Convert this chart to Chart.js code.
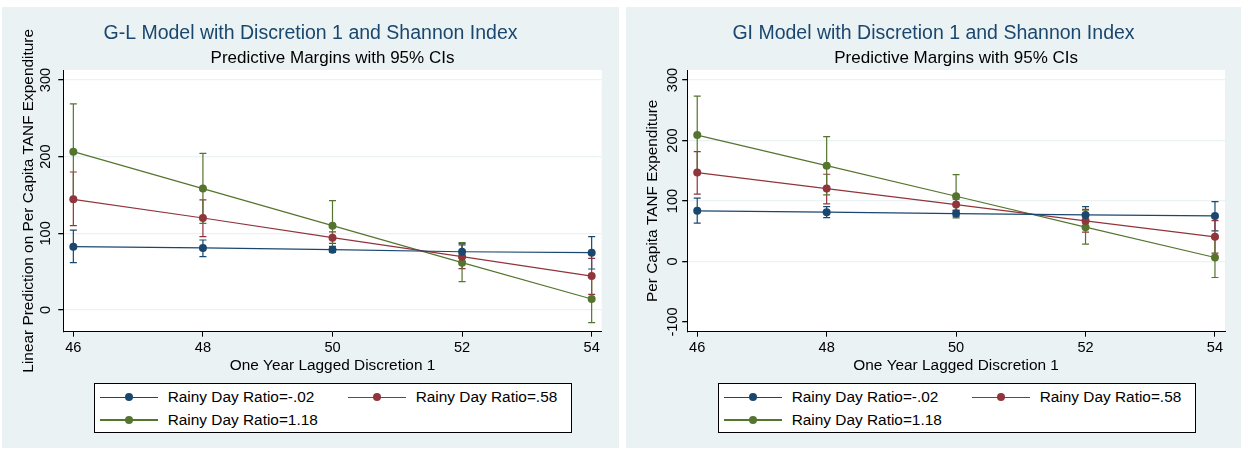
<!DOCTYPE html>
<html>
<head>
<meta charset="utf-8">
<script src="https://cdn.jsdelivr.net/npm/chart.js@4.4.1/dist/chart.umd.min.js"></script>
<style>
  html, body { margin: 0; padding: 0; background: #fff; overflow: hidden; }
  body { width: 1241px; height: 450px; position: relative; font-family: "Liberation Sans", Arial, sans-serif; }
  .panel { position: absolute; top: 7px; height: 441px; background: #eaf2f3; }
  .panel .wrap { position: absolute; left: 0; top: 0; width: 100%; height: 100%; }
  .legend { position: absolute; left: 91.7px; top: 376px; width: 478px; height: 50px; box-sizing: border-box; border: 1px solid #000; background: #fff; }
  .legend .item { position: absolute; height: 20px; line-height: 20px; font-size: 15.4px; color: #000; white-space: nowrap; }
  .legend .sym { position: absolute; left: 0; top: 0; width: 58px; height: 20px; }
  .legend .sym .ln { position: absolute; left: 0; top: 9.4px; width: 58px; height: 1.2px; }
  .legend .sym .dot { position: absolute; left: 25px; top: 6px; width: 8px; height: 8px; border-radius: 50%; }
  .legend .txt { position: absolute; left: 68px; top: 0; }
</style>
</head>
<body>
<div class="panel" style="left:2px;width:617px">
  <div class="wrap"><canvas id="glChart"></canvas></div>
  <div class="legend" id="glLegend"></div>
</div>
<div class="panel" style="left:626px;width:615px">
  <div class="wrap"><canvas id="giChart"></canvas></div>
  <div class="legend" id="giLegend"></div>
</div>
<script>
// x positions shared by both panels
const xValues = [46, 48, 50, 52, 54]
const xTicks = [46, 48, 50, 52, 54]
const seriesLabels = ['Rainy Day Ratio=-.02', 'Rainy Day Ratio=.58', 'Rainy Day Ratio=1.18']
const seriesColors = ['#1a476f', '#90353b', '#55752f']

// G-L model (left)
const glYTicks = [0, 100, 200, 300]
const glLow = [82.6, 80.9, 78.7, 76, 74.8]
const glLowCiLo = [61.7, 69.6, 75, 68, 53.5]
const glLowCiHi = [104.3, 91.3, 83, 85, 95.7]
const glMid = [144.3, 120, 94.3, 69.6, 44.3]
const glMidCiLo = [110, 95.7, 87, 53.9, 20.4]
const glMidCiHi = [180, 143.5, 102, 87, 67.4]
const glHigh = [206.5, 158.3, 110, 61.7, 14.3]
const glHighCiLo = [144, 113, 77, 37, -16.5]
const glHighCiHi = [268.7, 204.3, 142.6, 87.8, 45]

// GI model (right)
const giYTicks = [-100, 0, 100, 200, 300]
const giLow = [83.7, 81.5, 79.2, 77, 75.4]
const giLowCiLo = [63.4, 72.6, 74, 64, 50.7]
const giLowCiHi = [104.6, 90.8, 84, 90.8, 99]
const giMid = [146.9, 120.5, 94.1, 67.2, 40.8]
const giMidCiLo = [111.2, 95.2, 85, 48.5, 13.8]
const giMidCiHi = [181.5, 144.2, 103, 86, 67.7]
const giHigh = [209, 158.4, 107.9, 56.8, 6.6]
const giHighCiLo = [145, 110, 72, 28.7, -26.4]
const giHighCiHi = [273.4, 206.3, 143.6, 85, 39.6]

const FONT = '"Liberation Sans", Arial, sans-serif'
Chart.defaults.font.family = FONT
Chart.defaults.color = '#000'

// white plot region like Stata
const plotBg = {
  id: 'plotBg',
  beforeDraw (chart) {
    const { ctx, chartArea: a } = chart
    ctx.save()
    ctx.fillStyle = '#fff'
    ctx.fillRect(a.left, a.top, a.right - a.left, a.bottom - a.top)
    ctx.restore()
  }
}

// confidence interval caps (rcap)
const ciCaps = {
  id: 'ciCaps',
  beforeDatasetsDraw (chart) {
    const { ctx, scales: { x, y } } = chart
    chart.data.datasets.forEach(ds => {
      ctx.save()
      ctx.strokeStyle = ds.borderColor
      ctx.lineWidth = 1.2
      ds.ciLow.forEach((lo, i) => {
        const px = x.getPixelForValue(xValues[i])
        const top = y.getPixelForValue(ds.ciHigh[i])
        const bot = y.getPixelForValue(lo)
        ctx.beginPath()
        ctx.moveTo(px, top); ctx.lineTo(px, bot)
        ctx.moveTo(px - 3.5, top); ctx.lineTo(px + 3.5, top)
        ctx.moveTo(px - 3.5, bot); ctx.lineTo(px + 3.5, bot)
        ctx.stroke()
      })
      ctx.restore()
    })
  }
}

function buildLegend (id) {
  const box = document.getElementById(id)
  seriesLabels.forEach((label, i) => {
    const item = document.createElement('div')
    item.className = 'item'
    item.style.left = (5 + (i % 2) * 248) + 'px'
    item.style.top = (Math.floor(i / 2) === 0 ? 3.3 : 26) + 'px'
    item.innerHTML = `<span class="sym"><span class="ln" style="background:${seriesColors[i]}"></span>` +
      `<span class="dot" style="background:${seriesColors[i]}"></span></span><span class="txt">${label}</span>`
    box.appendChild(item)
  })
}

function renderPanel (canvasId, opts) {
  const datasets = opts.series.map((s, i) => ({
    label: seriesLabels[i],
    data: xValues.map((x, j) => ({ x, y: s.values[j] })),
    ciLow: s.lo,
    ciHigh: s.hi,
    borderColor: seriesColors[i],
    backgroundColor: seriesColors[i],
    borderWidth: 1.2,
    pointRadius: 4,
    pointBorderWidth: 0,
    pointBackgroundColor: seriesColors[i],
    tension: 0
  }))

  return new Chart(document.getElementById(canvasId), {
    type: 'line',
    data: { datasets },
    plugins: [plotBg, ciCaps],
    options: {
      responsive: true,
      maintainAspectRatio: false,
      animation: false,
      // equal side padding keeps the main title centred on the panel
      layout: { padding: { left: opts.side, top: 0, right: opts.side, bottom: 66.3 } },
      plugins: {
        legend: { display: false },
        tooltip: { enabled: false },
        title: {
          display: true,
          text: opts.title,
          color: '#1a476f',
          font: { size: 19.5, weight: 'normal' },
          padding: { top: 14.6, bottom: 2.8 }
        },
        subtitle: {
          display: true,
          fullSize: false,
          text: 'Predictive Margins with 95% CIs',
          color: '#000',
          font: { size: 17, weight: 'normal' },
          padding: { top: 0, bottom: 1.8 }
        }
      },
      scales: {
        x: {
          type: 'linear',
          min: 45.845,
          max: 54.155,
          afterBuildTicks: (s) => { s.ticks = xTicks.map(v => ({ value: v })) },
          afterFit: (s) => { s.height = 50 },
          border: { color: '#000', width: 1 },
          grid: { drawOnChartArea: false, color: '#000', tickLength: 5 },
          ticks: { padding: 2.9, maxRotation: 0, font: { size: 14.6 } },
          title: {
            display: true,
            text: 'One Year Lagged Discretion 1',
            font: { size: 15.4 },
            padding: { top: 0, bottom: 6.5 }
          }
        },
        y: {
          min: opts.yMin,
          max: opts.yMax,
          afterBuildTicks: (s) => { s.ticks = opts.yTicks.map(v => ({ value: v })) },
          afterFit: (s) => { s.width = opts.yWidth },
          border: { color: '#000', width: 1 },
          grid: {
            color: (ctx) => (ctx.tick && ctx.tick.value === opts.yTicks[0] && opts.skipFirstGrid) ? 'rgba(0,0,0,0)' : '#eaf2f3',
            tickColor: '#000',
            tickLength: 5,
            lineWidth: 1.3
          },
          ticks: { minRotation: 90, maxRotation: 90, crossAlign: 'center', padding: opts.tickPad, font: { size: 14.6 } },
          title: {
            display: true,
            text: opts.yTitle,
            font: { size: 15.4 },
            padding: { top: opts.yTitlePad, bottom: 0 }
          }
        }
      }
    }
  })
}

renderPanel('glChart', {
  title: 'G-L Model with Discretion 1 and Shannon Index',
  yTitle: 'Linear Prediction on Per Capita TANF Expenditure',
  yMin: -28.3,
  yMax: 313,
  yTicks: glYTicks,
  side: 17.3,
  yWidth: 44,
  yTitlePad: 0,
  tickPad: -0.2,
  skipFirstGrid: false,
  series: [
    { values: glLow, lo: glLowCiLo, hi: glLowCiHi },
    { values: glMid, lo: glMidCiLo, hi: glMidCiHi },
    { values: glHigh, lo: glHighCiLo, hi: glHighCiHi }
  ]
})

renderPanel('giChart', {
  title: 'GI Model with Discretion 1 and Shannon Index',
  yTitle: 'Per Capita TANF Expenditure',
  yMin: -116,
  yMax: 316.5,
  yTicks: giYTicks,
  side: 16,
  yWidth: 45.2,
  yTitlePad: 1.2,
  tickPad: -4.9,
  skipFirstGrid: true,
  series: [
    { values: giLow, lo: giLowCiLo, hi: giLowCiHi },
    { values: giMid, lo: giMidCiLo, hi: giMidCiHi },
    { values: giHigh, lo: giHighCiLo, hi: giHighCiHi }
  ]
})

buildLegend('glLegend')
buildLegend('giLegend')
</script>
</body>
</html>
